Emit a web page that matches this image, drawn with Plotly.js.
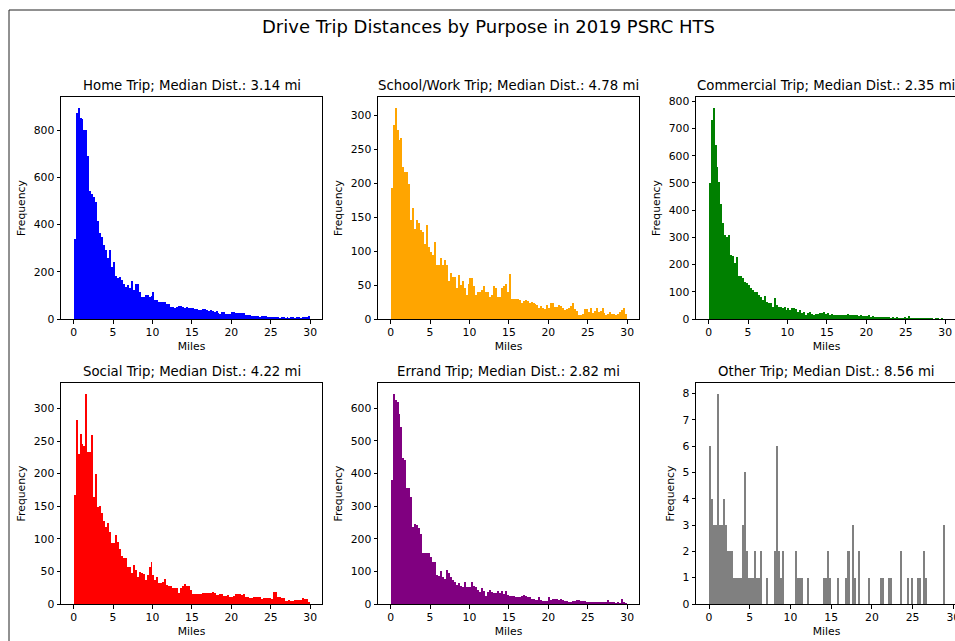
<!DOCTYPE html>
<html>
<head>
<meta charset="utf-8">
<script src="https://cdn.plot.ly/plotly-3.0.1.min.js"></script>
<style>
html,body{margin:0;padding:0;overflow:hidden;background:#fff;}
#chart{width:960px;height:641px;}
</style>
</head>
<body>
<div id="chart"></div>
<script>
// Bin width (miles) of the histograms
const binWidth = 0.25;
const xTicks = [0, 5, 10, 15, 20, 25, 30];

const purposes = ["Home", "School/Work", "Commercial", "Social", "Errand", "Other"];
const medians = [3.14, 4.78, 2.35, 4.22, 2.82, 8.56];
const colors = ["blue", "orange", "green", "red", "purple", "gray"];

const homeCounts = [340,870,895,850,845,800,800,690,540,530,515,497,413,363,349,314,292,257,290,222,
243,180,175,178,165,150,137,145,130,161,123,150,148,116,95,95,102,102,95,98,
116,81,80,74,72,70,71,62,62,51,50,48,52,53,56,50,45,52,48,45,
45,42,44,40,38,42,41,40,35,37,36,31,32,24,22,31,30,21,20,20,
31,28,26,27,26,27,25,17,16,18,13,12,14,11,10,11,14,12,9,10,
8,9,7,8,6,7,8,6,7,6,8,7,6,7,8,6,7,8,7,14];

const schoolCounts = [193,286,311,278,263,266,224,216,216,199,145,163,133,145,141,131,128,111,138,106,
99,94,114,79,79,90,79,87,79,56,68,62,62,45,65,50,56,45,35,52,
60,60,48,35,40,40,43,48,40,40,33,35,48,46,33,33,45,48,52,40,
66,30,30,30,29,28,24,26,28,27,24,25,23,22,21,16,19,16,15,21,
16,24,23,18,17,20,19,16,13,14,16,19,23,14,12,6,6,7,15,14,
11,16,9,12,16,11,12,16,9,6,7,11,8,8,6,7,11,13,16,8];

const commercialCounts = [498,733,777,638,559,504,424,351,308,302,310,235,232,204,229,158,157,149,137,134,
125,113,106,100,100,88,82,70,84,64,57,57,45,76,51,45,43,39,45,33,
39,33,39,39,36,27,33,21,27,15,23,27,18,15,17,18,23,23,27,18,
21,13,17,13,14,16,15,16,14,13,18,15,14,15,16,13,12,13,11,12,
12,13,9,10,8,7,8,7,6,7,6,6,5,6,5,6,5,5,5,6,
4,11,5,3,3,2,3,2,3,2,2,3,2,2,1,2,2,1,2,1];

const socialCounts = [167,283,230,261,245,243,323,233,233,260,164,199,149,150,140,128,118,124,111,93,
93,106,95,85,73,70,70,57,57,47,60,52,42,49,48,46,37,45,57,65,
44,37,42,32,32,34,39,29,27,27,24,25,24,17,25,28,31,27,27,22,
16,15,15,15,15,17,17,17,17,17,19,17,14,14,16,16,13,13,14,10,
11,12,15,15,15,14,15,10,10,9,9,10,10,10,10,8,9,9,9,9,
7,18,18,11,11,9,9,5,5,6,5,5,6,6,6,6,9,7,7,3];

const errandCounts = [381,645,625,619,583,543,446,440,354,357,328,237,245,242,232,214,157,157,155,157,
145,130,130,89,86,100,84,78,104,96,84,75,68,58,65,55,53,68,51,53,
53,68,55,51,43,38,48,41,25,37,43,38,33,33,41,35,41,31,41,28,
25,24,24,20,20,22,24,27,26,22,20,16,14,12,12,20,11,9,10,9,
20,12,14,15,14,12,14,13,9,9,7,7,10,10,11,11,8,8,8,7,
6,6,6,6,5,7,6,6,5,6,12,5,5,5,4,5,4,14,5,4];

const otherCounts = [6,4,3,3,8,3,3,4,3,2,2,2,1,1,1,1,3,5,2,1,
1,1,2,1,1,2,0,0,1,0,0,0,2,6,2,1,2,0,0,0,
0,0,2,1,1,1,0,0,1,0,0,0,0,0,0,0,1,1,2,1,
0,0,0,1,0,0,0,1,2,0,3,1,0,2,0,0,0,0,1,0,
0,0,0,0,1,1,0,0,1,1,0,0,0,0,2,0,0,1,0,1,
0,0,1,1,0,2,1,0,0,0,0,0,0,0,0,3,0,0,0,0];

const allCounts = [homeCounts, schoolCounts, commercialCounts, socialCounts, errandCounts, otherCounts];
const yDticks = [200, 50, 100, 50, 100, 1];
const xRanges = [[-1.6,31.5],[-1.6,31.5],[-1.6,31.5],[-1.6,31.5],[-1.6,31.5],[-1.6,30.45]];

// Layout geometry (pixels)
const W = 960, H = 641;
const colLeft = [61, 378, 696];
const axW = 261;
const rowTop = [97, 383], rowBot = [319, 604];

const FONT = "DejaVu Sans, Liberation Sans, sans-serif";
const traces = [];
const layout = {
  width: W, height: H,
  margin: {l:0, r:0, t:0, b:0},
  paper_bgcolor: "white", plot_bgcolor: "white",
  showlegend: false, bargap: 0,
  font: {family: FONT, color: "black", size: 11},
  title: {text: "Drive Trip Distances by Purpose in 2019 PSRC HTS",
          font: {family: FONT, size: 18, color: "black"},
          x: 488.5 / W, xanchor: "center", xref: "paper",
          y: 1 - 27 / H, yanchor: "middle", yref: "container"},
  annotations: [],
  shapes: [{type: "rect", xref: "paper", yref: "paper",
            x0: 9 / W, x1: 1.2, y0: -0.2, y1: 1 - 10 / H,
            line: {color: "#222", width: 1}, fillcolor: "rgba(0,0,0,0)"}]
};

for (let i = 0; i < 6; i++) {
  const counts = allCounts[i];
  const centers = counts.map((_, k) => (k + 0.5) * binWidth);
  const n = i + 1;
  const xa = "x" + (n === 1 ? "" : n), ya = "y" + (n === 1 ? "" : n);
  traces.push({
    type: "bar", x: centers, y: counts, width: binWidth,
    marker: {color: colors[i], line: {width: 0}},
    xaxis: xa, yaxis: ya, hoverinfo: "x+y"
  });
  const col = i % 3, row = Math.floor(i / 3);
  const xd = [colLeft[col] / W, (colLeft[col] + axW) / W];
  const yd = [1 - rowBot[row] / H, 1 - rowTop[row] / H];
  const ymax = Math.max(...counts) * 1.05;
  const common = {
    showline: true, mirror: true, linecolor: "black", linewidth: 1,
    ticks: "outside", ticklen: 3.5, tickwidth: 1, tickcolor: "black",
    showgrid: false, zeroline: false, ticklabeloverflow: "allow",
    tickfont: {family: FONT, size: 10.8, color: "black"}
  };
  layout["xaxis" + (n === 1 ? "" : n)] = Object.assign({}, common, {
    domain: xd, range: xRanges[i], anchor: ya,
    tickmode: "array", tickvals: xTicks, ticktext: xTicks.map(String),
    title: {text: "Miles", font: {family: FONT, size: 10.8, color: "black"}, standoff: 3}
  });
  layout["yaxis" + (n === 1 ? "" : n)] = Object.assign({}, common, {
    domain: yd, range: [0, ymax], anchor: xa,
    dtick: yDticks[i], tick0: 0,
    title: {text: "Frequency", font: {family: FONT, size: 10.8, color: "black"}, standoff: 5}
  });
  layout.annotations.push({
    text: purposes[i] + " Trip; Median Dist.: " + medians[i].toFixed(2) + " mi",
    xref: "paper", yref: "paper",
    x: (xd[0] + xd[1]) / 2, xanchor: "center",
    y: yd[1], yanchor: "bottom", yshift: 2,
    showarrow: false,
    font: {family: FONT, size: 13.3, color: "black"}
  });
}

Plotly.newPlot("chart", traces, layout, {displayModeBar: false, staticPlot: true});
</script>
</body>
</html>
